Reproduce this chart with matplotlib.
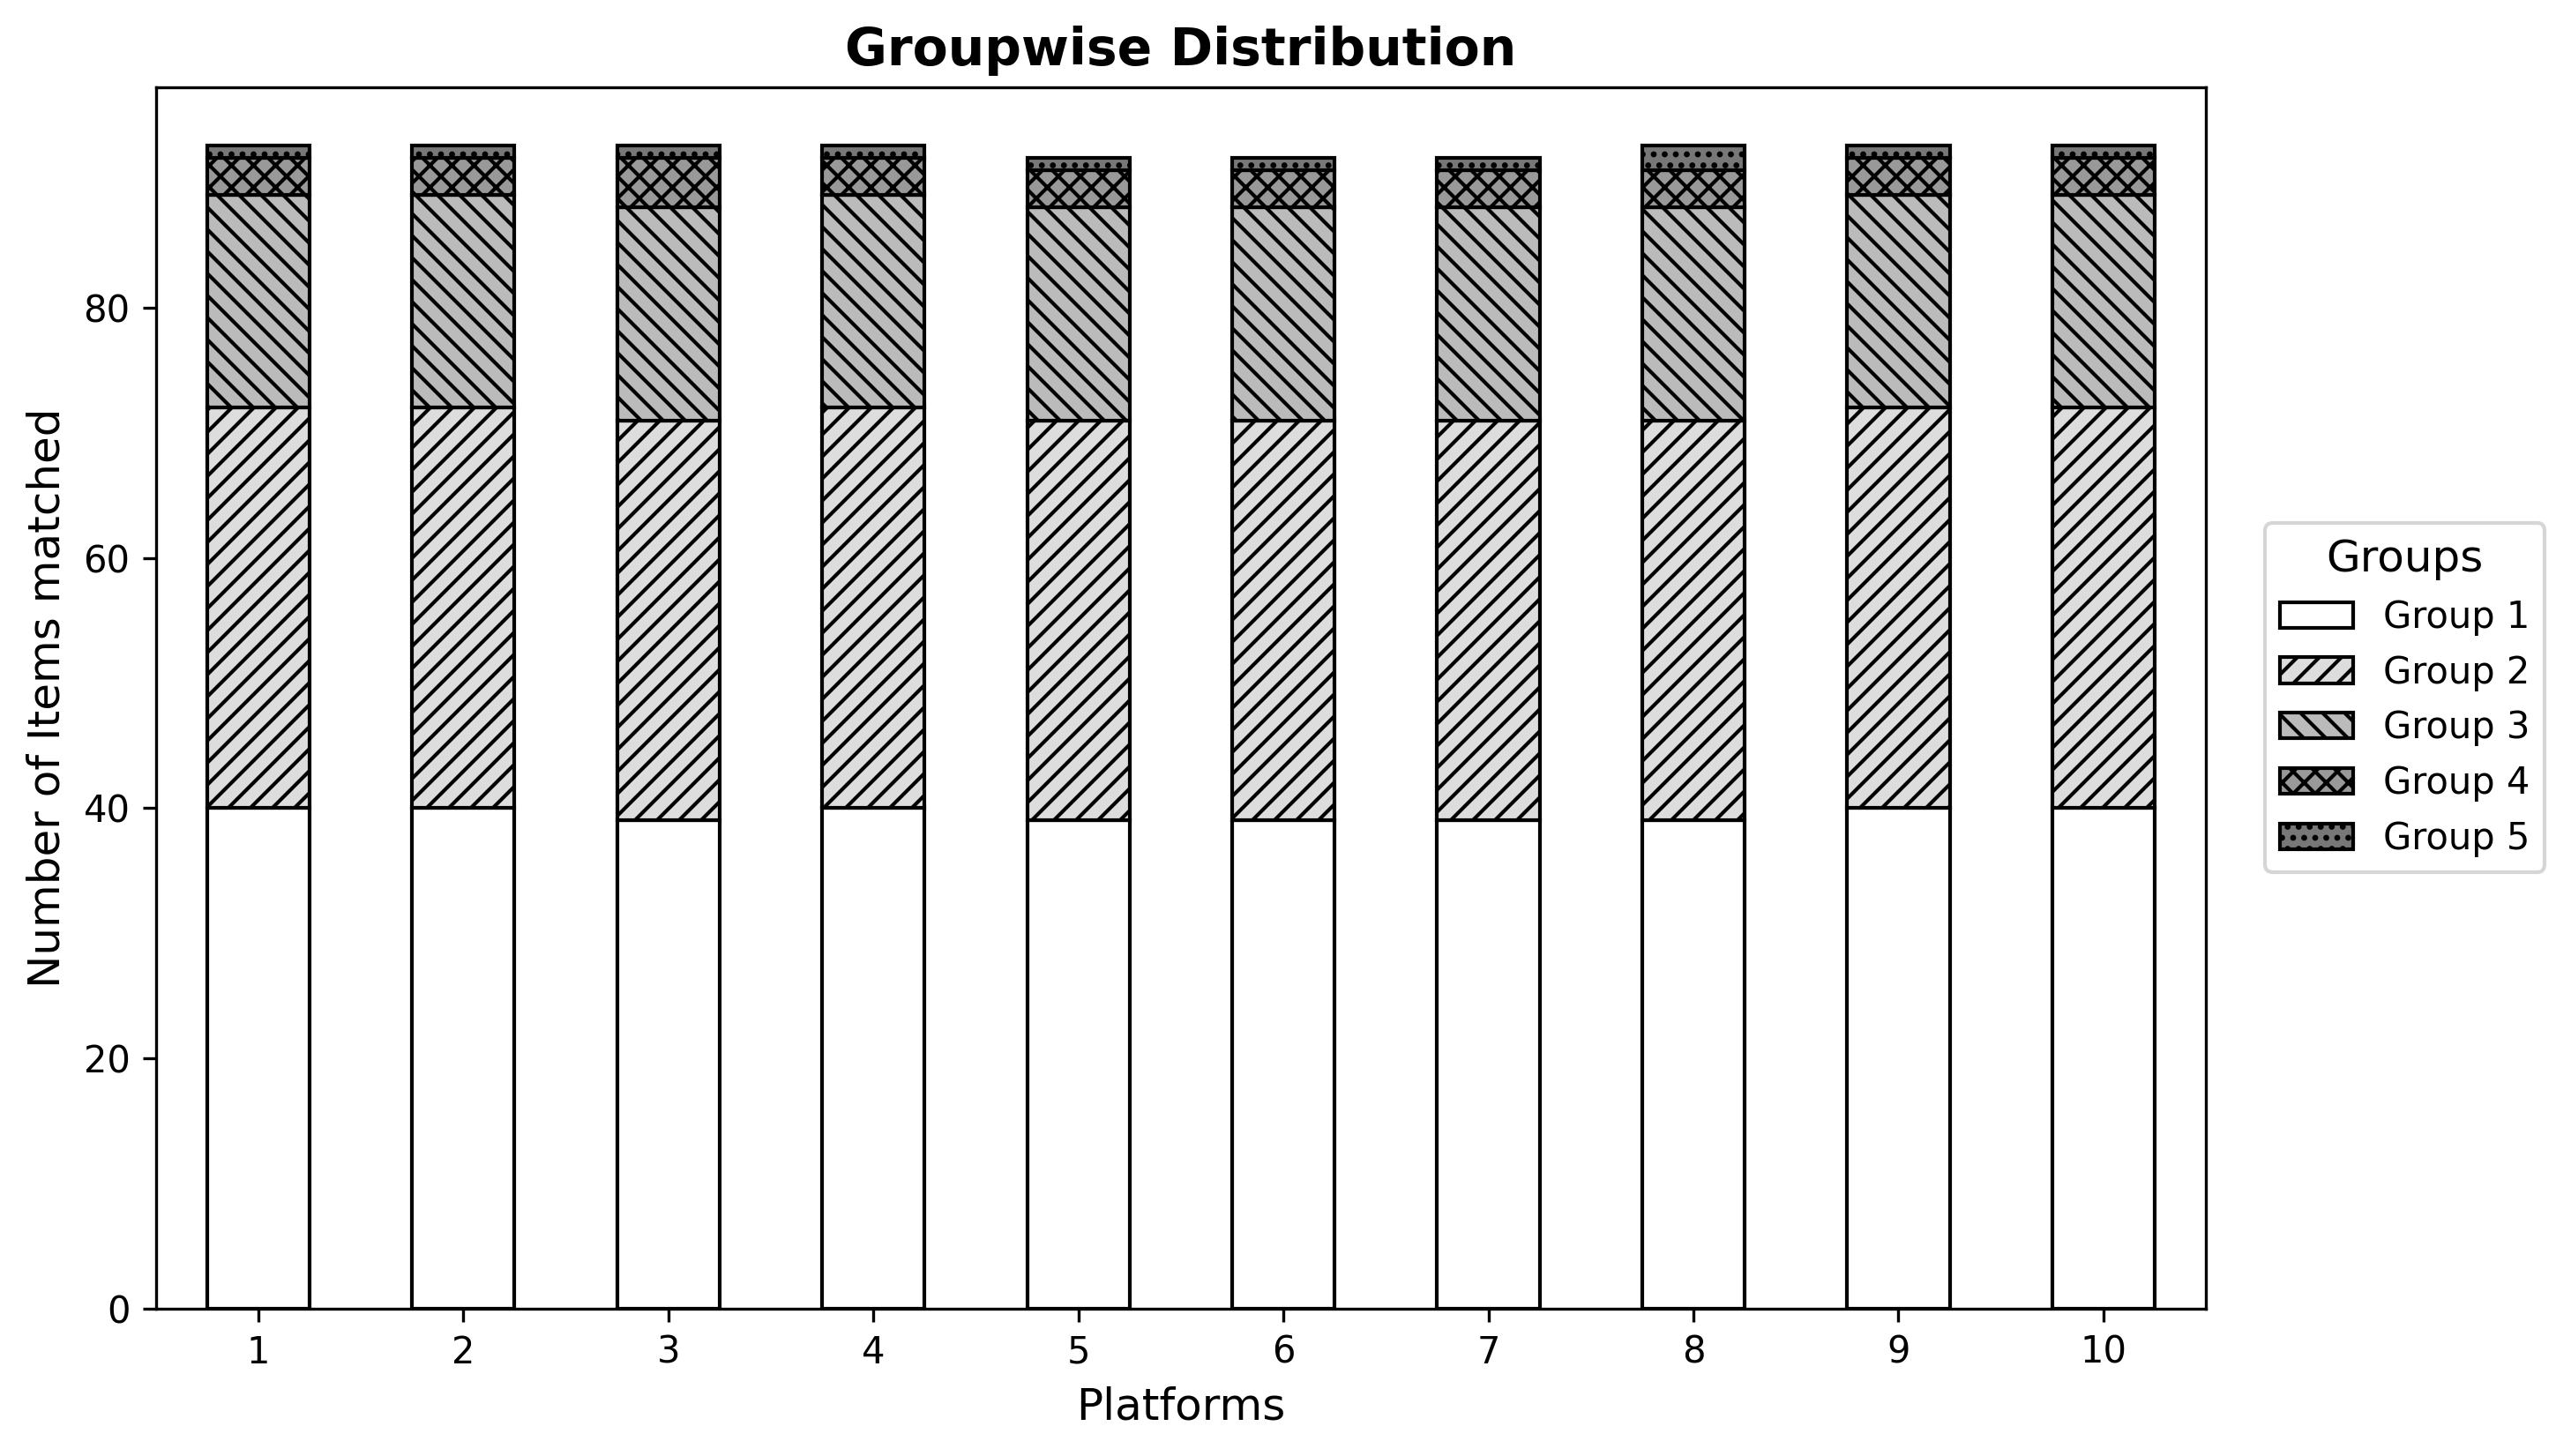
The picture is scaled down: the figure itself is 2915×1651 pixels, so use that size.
import matplotlib
matplotlib.use("Agg")
import matplotlib.pyplot as plt
import numpy as np

platforms = ["1", "2", "3", "4", "5", "6", "7", "8", "9", "10"]
group_names = ["Group 1", "Group 2", "Group 3", "Group 4", "Group 5"]
group1 = [40, 40, 39, 40, 39, 39, 39, 39, 40, 40]
group2 = [32, 32, 32, 32, 32, 32, 32, 32, 32, 32]
group3 = [17, 17, 17, 17, 17, 17, 17, 17, 17, 17]
group4 = [3, 3, 4, 3, 3, 3, 3, 3, 3, 3]
group5 = [1, 1, 1, 1, 1, 1, 1, 2, 1, 1]

colors = ["#ffffff", "#dddddd", "#bbbbbb", "#999999", "#777777"]
hatches = ["", "////", "\\\\\\\\", "xxxx", "...."]

fig = plt.figure(figsize=(2915 / 300, 1651 / 300), dpi=300)
ax = fig.add_axes([0.0606, 0.1014, 0.7974, 0.8389])

x = np.arange(len(platforms))
bottom = np.zeros(len(platforms))
for name, vals, c, h in zip(group_names, [group1, group2, group3, group4, group5], colors, hatches):
    ax.bar(x, vals, width=0.5, bottom=bottom, color=c, hatch=h, edgecolor="black",
           linewidth=1, label=name)
    bottom += np.array(vals)

ax.set_xlim(-0.5, len(platforms) - 0.5)
ax.set_ylim(0, bottom.max() * 1.05)
ax.set_xticks(x)
ax.set_xticklabels(platforms, rotation=0)
ax.set_xlabel("Platforms", fontsize=12)
ax.set_ylabel("Number of Items matched", fontsize=12)
ax.set_title("Groupwise Distribution", fontsize=14, fontweight="bold")
leg = ax.legend(title="Groups", loc="center left", bbox_to_anchor=(1.02, 0.5),
                fontsize=10, title_fontsize=12)

fig.savefig("out.png", dpi=300)
